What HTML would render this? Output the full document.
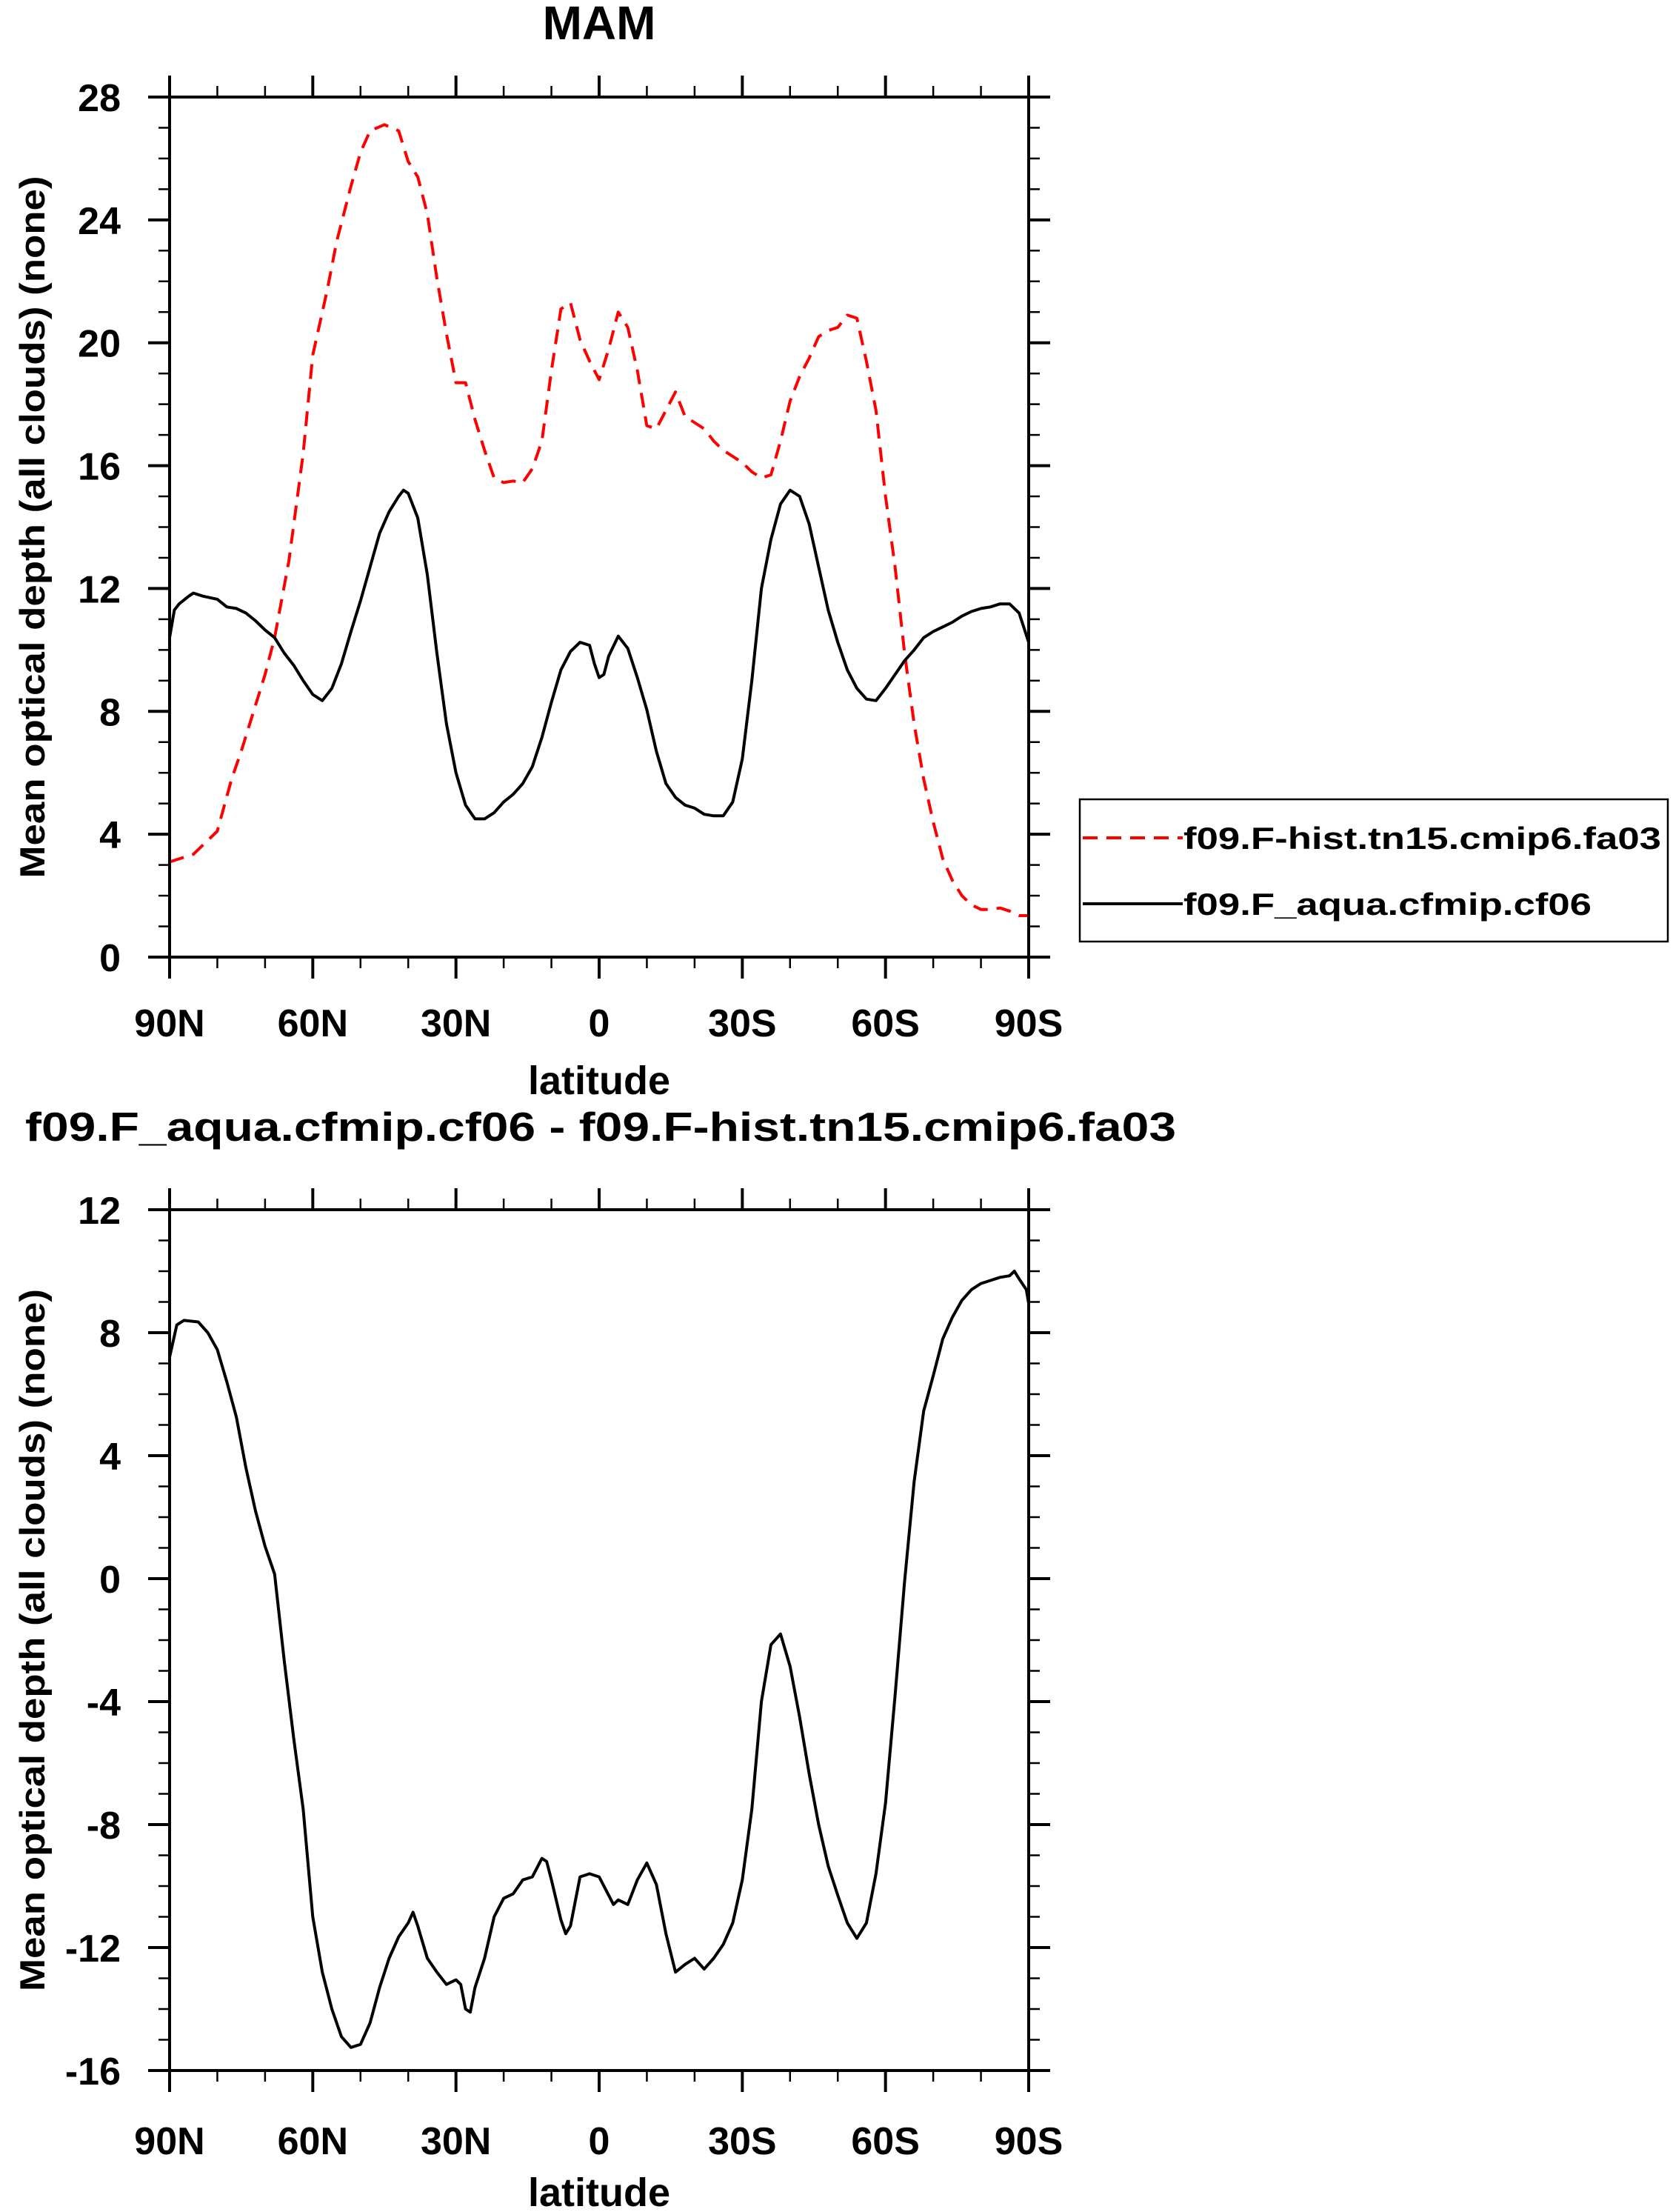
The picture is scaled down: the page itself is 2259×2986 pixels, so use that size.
<!DOCTYPE html>
<html><head><meta charset="utf-8"><style>
html,body{margin:0;padding:0;background:#fff}
svg{display:block}
text{font-family:"Liberation Sans",Arial,sans-serif;font-weight:bold;fill:#000}
</style></head><body>
<svg id="chart" width="2259" height="2986" viewBox="0 0 2259 2986" xmlns="http://www.w3.org/2000/svg">
<text x="809" y="53" font-size="64" text-anchor="middle">MAM</text>
<text x="811" y="1540" font-size="55" text-anchor="middle" textLength="1554" lengthAdjust="spacingAndGlyphs">f09.F_aqua.cfmip.cf06 - f09.F-hist.tn15.cmip6.fa03</text>
<g id="top"></g>
<g id="bot"></g>
<g>
<rect x="1458" y="1079" width="794" height="192" fill="none" stroke="#000" stroke-width="2.5"/>
<line x1="1462" y1="1131" x2="1597" y2="1131" stroke="#f00" stroke-width="4" stroke-dasharray="20,12"/>
<text x="1598" y="1146" font-size="42" textLength="645" lengthAdjust="spacingAndGlyphs">f09.F-hist.tn15.cmip6.fa03</text>
<line x1="1462" y1="1220" x2="1597" y2="1220" stroke="#000" stroke-width="4"/>
<text x="1598" y="1235" font-size="42" textLength="551" lengthAdjust="spacingAndGlyphs">f09.F_aqua.cfmip.cf06</text>
</g>
</svg>
<script>
const xTickLats=[90,60,30,0,-30,-60,-90];
const xTickLabels=["90N","60N","30N","0","30S","60S","90S"];
const topYTicks=[0,4,8,12,16,20,24,28];
const botYTicks=[-16,-12,-8,-4,0,4,8,12];
const fa03Lat=[90,85,80,77,75,70,68,65,62,60,57,55,52,50,48,45,42,40,38,36,34,32,30,28,26,24,22,20,18,16,14,12,10,8,6,4,2,0,-2,-4,-6,-8,-10,-12,-14,-16,-18,-20,-22,-24,-26,-28,-30,-32,-34,-36,-38,-40,-42,-44,-46,-48,-50,-52,-54,-56,-58,-60,-62,-64,-66,-68,-70,-72,-74,-76,-78,-80,-82,-84,-86,-88,-90];
const fa03Val=[3.1,3.35,4.1,5.8,6.7,9.2,10.4,12.9,16.4,19.6,21.7,23.3,25.1,26.2,26.9,27.1,26.9,25.9,25.4,24.2,22.1,20.3,18.7,18.7,17.5,16.5,15.6,15.45,15.5,15.45,15.9,16.8,19.1,21.1,21.3,20.1,19.4,18.8,19.8,21.0,20.5,19.1,17.3,17.2,17.8,18.4,17.6,17.4,17.2,16.8,16.5,16.3,16.1,15.8,15.6,15.7,16.8,18.1,18.9,19.5,20.2,20.4,20.5,20.9,20.8,19.4,17.8,15.0,12.7,9.9,7.6,5.8,4.4,3.2,2.5,2.0,1.7,1.55,1.55,1.6,1.5,1.35,1.35];
const cf06Lat=[90,89,88,86,85,83,80,78,76,74,72,70,68,66,64,62,60,58,56,54,52,50,48,46,44,42,41,40,38,36,34,32,30,28,26,24,22,20,18,16,14,12,10,8,6,4,2,1,0,-1,-2,-4,-6,-8,-10,-12,-14,-16,-18,-20,-22,-24,-26,-28,-30,-32,-34,-36,-38,-40,-42,-44,-46,-48,-50,-52,-54,-56,-58,-60,-62,-64,-66,-68,-70,-72,-74,-76,-78,-80,-82,-84,-86,-88,-90];
const cf06Val=[10.4,11.3,11.5,11.75,11.85,11.75,11.65,11.4,11.35,11.2,10.95,10.65,10.4,9.9,9.5,9.0,8.55,8.35,8.75,9.55,10.6,11.6,12.7,13.8,14.5,15.0,15.2,15.1,14.3,12.45,9.9,7.6,6.0,4.95,4.5,4.5,4.7,5.05,5.3,5.65,6.2,7.15,8.3,9.35,9.95,10.25,10.15,9.55,9.1,9.2,9.8,10.45,10.05,9.1,8.05,6.7,5.65,5.2,4.95,4.85,4.65,4.6,4.6,5.05,6.45,9.0,12.0,13.6,14.75,15.2,15.0,14.1,12.7,11.3,10.25,9.35,8.75,8.4,8.35,8.75,9.2,9.65,10.0,10.4,10.6,10.75,10.9,11.1,11.25,11.35,11.4,11.5,11.5,11.2,10.25];
const diffLat=[90,88.5,87,84,82,80,78,76,74,72,70,68,66,64,62,60,58,56,54,52,50,48,46,44,42,40,39,38,36,34,32,30,29,28,27,26,24,22,20,18,16,14,12,11,10,8,7,6,4,2,0,-2,-3,-4,-6,-8,-10,-12,-14,-16,-18,-20,-22,-24,-26,-28,-30,-32,-34,-36,-38,-40,-42,-44,-46,-48,-50,-52,-54,-56,-58,-60,-62,-64,-66,-68,-70,-72,-74,-76,-78,-80,-82,-84,-86,-87,-88,-89.5,-90];
const diffVal=[7.2,8.25,8.4,8.35,8.0,7.45,6.4,5.25,3.6,2.2,1.05,0.15,-2.65,-5.2,-7.5,-11.0,-12.8,-14.0,-14.9,-15.25,-15.15,-14.45,-13.3,-12.35,-11.65,-11.2,-10.85,-11.3,-12.35,-12.8,-13.2,-13.05,-13.2,-14.0,-14.1,-13.3,-12.35,-11.0,-10.4,-10.25,-9.8,-9.7,-9.1,-9.2,-9.8,-11.1,-11.55,-11.3,-9.7,-9.6,-9.7,-10.3,-10.6,-10.45,-10.6,-9.8,-9.25,-9.95,-11.55,-12.8,-12.55,-12.35,-12.7,-12.35,-11.9,-11.2,-9.8,-7.5,-4.0,-2.15,-1.8,-2.85,-4.5,-6.35,-8.0,-9.35,-10.3,-11.2,-11.7,-11.2,-9.6,-7.3,-3.8,-0.1,3.15,5.45,6.6,7.8,8.5,9.05,9.4,9.6,9.7,9.8,9.85,10.0,9.75,9.4,8.95];

const NS='http://www.w3.org/2000/svg';
function mk(parent,tag,attrs){const e=document.createElementNS(NS,tag);for(const k in attrs)e.setAttribute(k,attrs[k]);parent.appendChild(e);return e;}
const L=229,R=1389;
function xs(lat){return L+(90-lat)/180*(R-L);}

function panel(g,top,bot,ymin,ymax,yticks,series,lblBase,latBase){
  const ys=v=>bot-(v-ymin)/(ymax-ymin)*(bot-top);
  // series
  series.forEach(s=>{
    const d=s.lat.map((la,i)=>(i?'L':'M')+xs(la).toFixed(1)+' '+ys(s.val[i]).toFixed(1)).join(' ');
    const p=mk(g,'path',{d:d,fill:'none',stroke:s.color,'stroke-width':4,'stroke-linejoin':'round'});
    if(s.dash)p.setAttribute('stroke-dasharray',s.dash);
    
    
  });
  const fr=mk(g,'rect',{x:L,y:top,width:R-L,height:bot-top,fill:'none',stroke:'#000','stroke-width':4});
  
  
  // y ticks
  for(let v=ymin;v<=ymax;v+=1){
    const y=ys(v);const major=yticks.indexOf(v)>=0;const len=major?29:15;const w=major?4:2.5;
    const t1=mk(g,'line',{x1:L-len,y1:y,x2:L,y2:y,stroke:'#000','stroke-width':w});
    
    
    const t2=mk(g,'line',{x1:R,y1:y,x2:R+len,y2:y,stroke:'#000','stroke-width':w});
    
    
  }
  yticks.forEach(v=>{
    const t=mk(g,'text',{x:163,y:ys(v)+19,'font-size':52,'text-anchor':'end'});t.textContent=String(v);
    
    
  });
  // x ticks
  for(let la=90;la>=-90;la-=10){
    const x=xs(la);const major=xTickLats.indexOf(la)>=0;const len=major?29:15;const w=major?4:2.5;
    const b=mk(g,'line',{x1:x,y1:bot,x2:x,y2:bot+len,stroke:'#000','stroke-width':w});
    
    
    const tt=mk(g,'line',{x1:x,y1:top-len,x2:x,y2:top,stroke:'#000','stroke-width':w});
    
    
  }
  xTickLats.forEach((la,i)=>{
    const t=mk(g,'text',{x:xs(la),y:lblBase,'font-size':52,'text-anchor':'middle'});t.textContent=xTickLabels[i];
    
    
  });
  const xt=mk(g,'text',{x:(L+R)/2,y:latBase,'font-size':54,'text-anchor':'middle'});xt.textContent='latitude';
  
  
  const cy=(top+bot)/2;
  const yt=mk(g,'text',{x:0,y:0,'font-size':47,'text-anchor':'middle',transform:'translate(60,'+cy+') rotate(-90)',textLength:948,lengthAdjust:'spacingAndGlyphs'});
  yt.textContent='Mean optical depth (all clouds) (none)';
  
  
}
panel(document.getElementById('top'),131,1292,0,28,topYTicks,[
 {lat:fa03Lat,val:fa03Val,color:'#f00',dash:'20,12',name:'line-fa03'},
 {lat:cf06Lat,val:cf06Val,color:'#000',name:'line-cf06'}],1399,1477);
panel(document.getElementById('bot'),1633,2795,-16,12,botYTicks,[
 {lat:diffLat,val:diffVal,color:'#000',name:'line-difference'}],2908,2978);
</script>
</body></html>
